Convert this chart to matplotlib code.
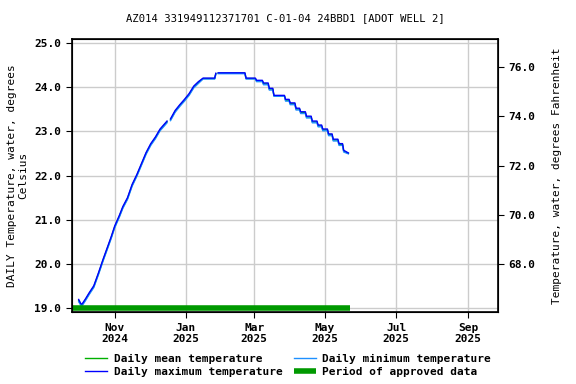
import matplotlib
matplotlib.use("Agg")
import matplotlib.pyplot as plt
import numpy as np
import pandas as pd

plt.rcParams['font.family'] = ['DejaVu Sans Mono']
plt.rcParams['font.weight'] = 'bold'

title = "AZ014 331949112371701 C-01-04 24BBD1 [ADOT WELL 2]"

dates = ["2024-10-01", "2024-10-03", "2024-10-04", "2024-10-07", "2024-10-10", "2024-10-14",
         "2024-10-18", "2024-10-22", "2024-10-26", "2024-10-29", "2024-11-01", "2024-11-05",
         "2024-11-08", "2024-11-12", "2024-11-16", "2024-11-20", "2024-11-24", "2024-11-28",
         "2024-12-02", "2024-12-06", "2024-12-10", "2024-12-14", "2024-12-16", "2024-12-17",
         "2024-12-19", "2024-12-23", "2024-12-27", "2024-12-31", "2025-01-04", "2025-01-08",
         "2025-01-12", "2025-01-16", "2025-01-20", "2025-01-26", "2025-01-27", "2025-01-28",
         "2025-01-29", "2025-02-05", "2025-02-12", "2025-02-21", "2025-02-22", "2025-03-02",
         "2025-03-03", "2025-03-08", "2025-03-09", "2025-03-13", "2025-03-14", "2025-03-17",
         "2025-03-18", "2025-03-27", "2025-03-28", "2025-03-31", "2025-04-01", "2025-04-05",
         "2025-04-06", "2025-04-09", "2025-04-10", "2025-04-14", "2025-04-15", "2025-04-19",
         "2025-04-20", "2025-04-24", "2025-04-25", "2025-04-28", "2025-04-29", "2025-05-03",
         "2025-05-04", "2025-05-07", "2025-05-08", "2025-05-12", "2025-05-13", "2025-05-16",
         "2025-05-17", "2025-05-21"]

mean_temp = [19.17, 19.08, 19.08, 19.20, 19.33, 19.49,
             19.78, 20.09, 20.38, 20.60, 20.84, 21.08,
             21.28, 21.48, 21.78, 22.00, 22.25, 22.50,
             22.70, 22.85, 23.03, 23.15, 23.21, np.nan,
             23.26, 23.45, 23.58, 23.70, 23.83, 24.00,
             24.10, 24.19, 24.19, 24.19, 24.30, np.nan,
             24.31, 24.31, 24.31, 24.31, 24.19, 24.19,
             24.14, 24.14, 24.07, 24.07, 23.95, 23.95,
             23.80, 23.80, 23.70, 23.70, 23.62, 23.62,
             23.50, 23.50, 23.42, 23.42, 23.32, 23.32,
             23.21, 23.21, 23.12, 23.12, 23.03, 23.03,
             22.92, 22.92, 22.80, 22.80, 22.70, 22.70,
             22.55, 22.50]

min_temp = [19.15, 19.06, 19.06, 19.18, 19.31, 19.47,
            19.76, 20.07, 20.36, 20.58, 20.82, 21.06,
            21.26, 21.46, 21.76, 21.98, 22.23, 22.48,
            22.68, 22.83, 23.01, 23.13, 23.19, np.nan,
            23.24, 23.43, 23.56, 23.68, 23.81, 23.98,
            24.08, 24.18, 24.18, 24.18, 24.29, np.nan,
            24.30, 24.30, 24.30, 24.30, 24.18, 24.18,
            24.12, 24.12, 24.05, 24.05, 23.93, 23.93,
            23.79, 23.79, 23.68, 23.68, 23.60, 23.60,
            23.48, 23.48, 23.40, 23.40, 23.30, 23.30,
            23.19, 23.19, 23.10, 23.10, 23.01, 23.01,
            22.90, 22.90, 22.78, 22.78, 22.68, 22.68,
            22.53, 22.49]

max_temp = [19.20, 19.10, 19.10, 19.22, 19.35, 19.51,
            19.80, 20.11, 20.40, 20.62, 20.86, 21.10,
            21.30, 21.50, 21.80, 22.02, 22.27, 22.52,
            22.72, 22.87, 23.05, 23.17, 23.23, np.nan,
            23.28, 23.47, 23.60, 23.72, 23.85, 24.02,
            24.12, 24.20, 24.20, 24.20, 24.31, np.nan,
            24.32, 24.32, 24.32, 24.32, 24.20, 24.20,
            24.15, 24.15, 24.09, 24.09, 23.97, 23.97,
            23.81, 23.81, 23.72, 23.72, 23.64, 23.64,
            23.52, 23.52, 23.44, 23.44, 23.34, 23.34,
            23.23, 23.23, 23.14, 23.14, 23.05, 23.05,
            22.94, 22.94, 22.82, 22.82, 22.72, 22.72,
            22.57, 22.51]

approved_start = "2024-09-25"
approved_end = "2025-05-22"

x = pd.to_datetime(dates)

fig = plt.figure(figsize=(5.76, 3.84), dpi=100)
ax = fig.add_axes([0.1245, 0.1867, 0.7406, 0.711])

ax.plot(x, mean_temp, color='#00b000', lw=1, label='Daily mean temperature')
ax.plot(x, min_temp, color='#1e90ff', lw=1, label='Daily minimum temperature')
ax.plot(x, max_temp, color='#0000ff', lw=1, label='Daily maximum temperature')
ax.plot(pd.to_datetime([approved_start, approved_end]), [19.0, 19.0], color='#009900', lw=4,
        solid_capstyle='butt', label='Period of approved data')

ax.set_xlim(pd.Timestamp("2024-09-25"), pd.Timestamp("2025-09-27"))
ax.set_ylim(18.91, 25.077)
ax.set_yticks([19, 20, 21, 22, 23, 24, 25])
ax.yaxis.set_major_formatter(matplotlib.ticker.FormatStrFormatter('%.1f'))
ticks = pd.to_datetime(["2024-11-01", "2025-01-01", "2025-03-01", "2025-05-01", "2025-07-01", "2025-09-01"])
ax.set_xticks(ticks)
ax.set_xticklabels([t.strftime('%b\n%Y') for t in ticks])
ax.grid(True, color='#cccccc', lw=1)
ax.set_axisbelow(True)
ax.tick_params(labelsize=8, length=4)
for s in ax.spines.values():
    s.set_linewidth(1.2)
ax.set_ylabel("DAILY Temperature, water, degrees\nCelsius", fontsize=8)
ax.set_title(title, fontsize=7.6, pad=13)

ax2 = ax.twinx()
lo, hi = ax.get_ylim()
ax2.set_ylim(lo * 1.8 + 32, hi * 1.8 + 32)
ax2.set_yticks([68, 70, 72, 74, 76])
ax2.yaxis.set_major_formatter(matplotlib.ticker.FormatStrFormatter('%.1f'))
ax2.tick_params(labelsize=8, length=4)
ax2.set_ylabel("Temperature, water, degrees Fahrenheit", fontsize=8, labelpad=12)

h, l = ax.get_legend_handles_labels()
order = [0, 2, 1, 3]
fig.legend([h[i] for i in order], [l[i] for i in order], loc='upper center',
           bbox_to_anchor=(0.5, 0.105), ncol=2, frameon=False, fontsize=8,
           handlelength=2, columnspacing=1.0, handletextpad=0.6, labelspacing=0.3)

fig.savefig("out.png", dpi=100)
